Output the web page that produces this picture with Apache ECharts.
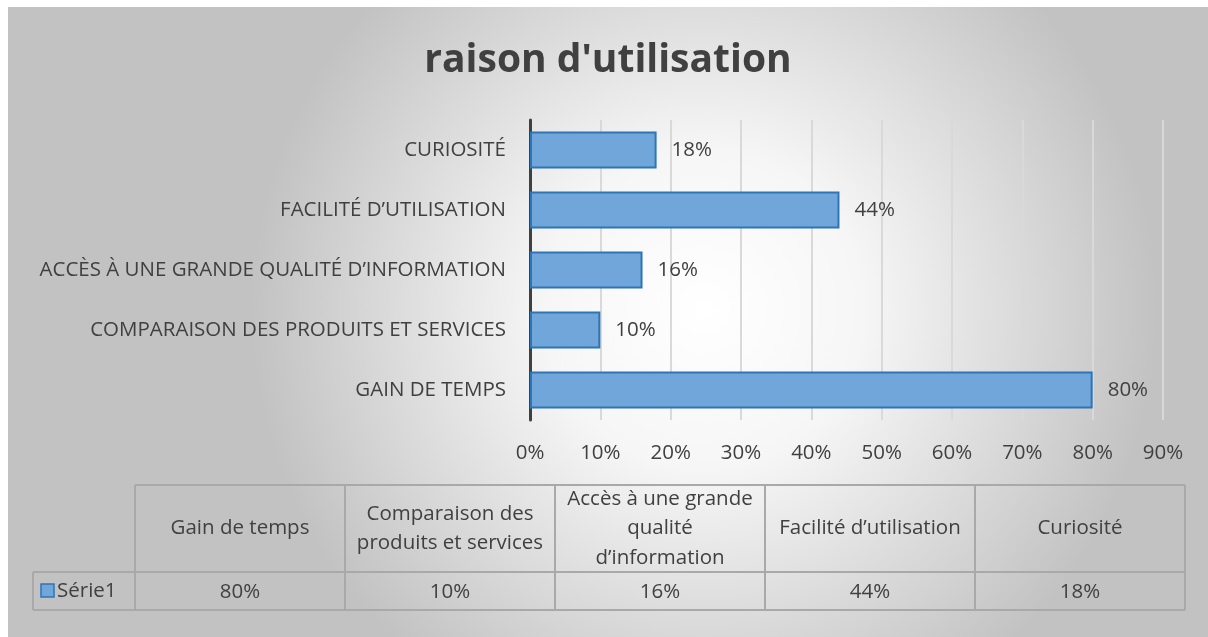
<!DOCTYPE html>
<html>
<head>
<meta charset="utf-8">
<script src="https://cdn.jsdelivr.net/npm/echarts@6/dist/echarts.min.js"></script>
<style>
  html, body { margin: 0; padding: 0; background: #fff; }
  #chart { position: absolute; left: 8px; top: 7px; width: 1200px; height: 630px; }
</style>
</head>
<body>
<div id="chart"></div>
<script>
// data, in table order (first = bottom bar)
const categories = ['Gain de temps', 'Comparaison des produits et services', 'Accès à une grande qualité d’information', 'Facilité d’utilisation', 'Curiosité'];
const tableHeaders = ['Gain de temps', 'Comparaison des\nproduits et services', 'Accès à une grande\nqualité\nd’information', 'Facilité d’utilisation', 'Curiosité'];
const values = [80, 10, 16, 44, 18];
const seriesName = 'Série1';

const FONT = 'Open Sans';
const FS = 20.5;
const textCol = '#404040';
const barFill = '#70a6da';
const barLine = '#2e75b6';
const tableLine = '#a9a9a9';

// table layout (chart coords = page - (8,7))
const tX0 = 127, colW = 210, tTop = 478, tMid = 565, tBot = 603, keyX0 = 25;

let ec = echarts.init(document.getElementById('chart'));

let graphics = [];
// horizontal lines
graphics.push({ type: 'line', shape: { x1: tX0, y1: tTop, x2: tX0 + colW * 5, y2: tTop }, style: { stroke: tableLine, lineWidth: 2 } });
graphics.push({ type: 'line', shape: { x1: keyX0, y1: tMid, x2: tX0 + colW * 5, y2: tMid }, style: { stroke: tableLine, lineWidth: 2 } });
graphics.push({ type: 'line', shape: { x1: keyX0, y1: tBot, x2: tX0 + colW * 5, y2: tBot }, style: { stroke: tableLine, lineWidth: 2 } });
graphics.push({ type: 'line', shape: { x1: keyX0, y1: tMid, x2: keyX0, y2: tBot }, style: { stroke: tableLine, lineWidth: 2 } });
for (let i = 0; i <= tableHeaders.length; i++) {
    let x = tX0 + colW * i;
    graphics.push({ type: 'line', shape: { x1: x, y1: tTop, x2: x, y2: tBot }, style: { stroke: tableLine, lineWidth: 2 } });
}
tableHeaders.forEach((h, i) => {
    let cx = tX0 + colW * i + colW / 2;
    graphics.push({ type: 'text', x: cx, y: (tTop + tMid) / 2, style: { text: h, font: FS + 'px ' + FONT, fill: textCol, align: 'center', verticalAlign: 'middle', lineHeight: 29.5 } });
    graphics.push({ type: 'text', x: cx, y: (tMid + tBot) / 2 + 1, style: { text: values[i] + '%', font: FS + 'px ' + FONT, fill: textCol, align: 'center', verticalAlign: 'middle' } });
});
// legend key
graphics.push({ type: 'rect', shape: { x: 33, y: 577, width: 13, height: 13 }, style: { fill: barFill, stroke: barLine, lineWidth: 1.5 } });
graphics.push({ type: 'text', x: 49, y: 584, style: { text: seriesName, font: FS + 'px ' + FONT, fill: textCol, align: 'left', verticalAlign: 'middle' } });

let option = {
    backgroundColor: {
        type: 'radial', x: 0.58, y: 0.48, r: 0.72,
        colorStops: [
            { offset: 0, color: '#ffffff' },
            { offset: 0.35, color: '#f6f6f6' },
            { offset: 1, color: '#c2c2c2' }
        ]
    },
    title: {
        text: "raison d'utilisation",
        left: 'center', top: 29,
        textStyle: { fontFamily: FONT, fontSize: 39, fontWeight: 'bold', color: textCol }
    },
    grid: { left: 522, right: 45, top: 113, bottom: 217, containLabel: false },
    xAxis: {
        type: 'value', min: 0, max: 90, interval: 10,
        axisLine: { show: false }, axisTick: { show: false },
        axisLabel: { formatter: '{value}%', fontFamily: FONT, fontSize: FS, color: textCol, margin: 23 },
        splitLine: { lineStyle: { color: '#d9d9d9', width: 2 } }
    },
    yAxis: {
        type: 'category', data: categories.map(c => c.toUpperCase()),
        axisLine: { lineStyle: { color: '#404040', width: 3 } },
        axisTick: { show: false },
        axisLabel: { fontFamily: FONT, fontSize: FS, color: textCol, margin: 24 }
    },
    series: [{
        name: seriesName, type: 'bar', data: values, barCategoryGap: '38%',
        itemStyle: { color: barFill, borderColor: barLine, borderWidth: 2 },
        label: { show: true, position: 'right', distance: 15, formatter: '{c}%', fontFamily: FONT, fontSize: FS, color: textCol }
    }],
    graphic: graphics
};
ec.setOption(option);
</script>
</body>
</html>
